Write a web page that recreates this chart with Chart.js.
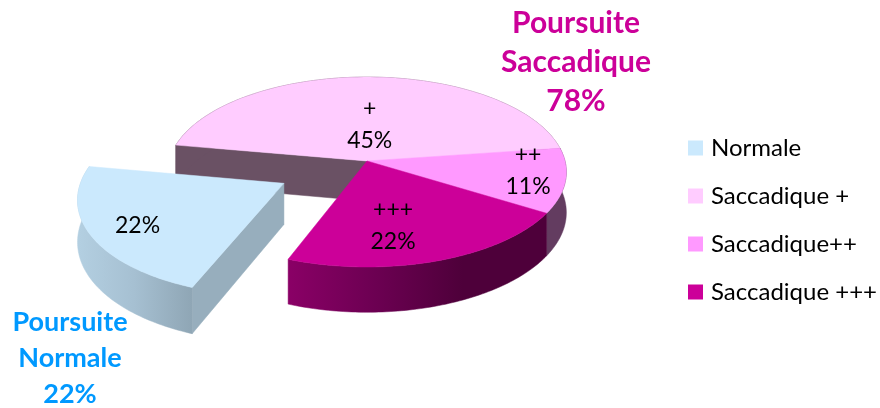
<!DOCTYPE html>
<html>
<head>
<meta charset="utf-8">
<style>
    html, body { margin: 0; padding: 0; background: #fff; }
    canvas { display: block; }
</style>
<script src="https://cdn.jsdelivr.net/npm/chart.js@4/dist/chart.umd.min.js"></script>
</head>
<body>
<canvas id="pieChart" width="880" height="408"></canvas>
<script>
const categories = ['Normale', 'Saccadique +', 'Saccadique++', 'Saccadique +++'];
const percents = [22, 45, 11, 22];
const sliceMarks = ['', '+', '++', '+++'];
const groupNormal = ['Poursuite', 'Normale', '22%'];
const groupSaccadic = ['Poursuite', 'Saccadique', '78%'];

const topColors = ['#CBE9FD', '#FFCCFF', '#FF99FF', '#CC0099'];
const FONT = 'Lato, "Open Sans", sans-serif';

// how the flat pie is seen: ellipse with a little perspective
const view = { cx: 367, cy: 161, rx: 198, ry: 93.7, persp: 0.116, depth: 40 };

function project(u, v, drop) {
    const s = 1 / (1 - view.persp * v);
    return {
        x: view.cx + view.rx * u * s,
        y: view.cy + view.ry * v * s + (drop ? view.depth * s : 0)
    };
}

function slicePoints(arc) {
    const shift = arc.options.offset / arc.outerRadius;
    const mid = (arc.startAngle + arc.endAngle) / 2;
    const ou = shift * Math.cos(mid);
    const ov = shift * Math.sin(mid);
    const pts = [];
    for (let i = 0; i <= 80; i++) {
        const a = arc.startAngle + (arc.endAngle - arc.startAngle) * i / 80;
        pts.push([ou + Math.cos(a), ov + Math.sin(a)]);
    }
    return { apex: [ou, ov], rim: pts };
}

function fillPath(ctx, list, fill) {
    ctx.beginPath();
    list.forEach((p, i) => i ? ctx.lineTo(p.x, p.y) : ctx.moveTo(p.x, p.y));
    ctx.closePath();
    ctx.fillStyle = fill;
    ctx.fill();
    ctx.strokeStyle = fill;
    ctx.lineWidth = 0.5;
    ctx.stroke();
}

function hGradient(ctx, x0, x1, stops) {
    const g = ctx.createLinearGradient(x0, 0, x1, 0);
    stops.forEach((c, i) => g.addColorStop(i / (stops.length - 1), c));
    return g;
}

function drawSide(ctx, arc, index) {
    const p = slicePoints(arc);
    const wall = ['#97AEBD', '#6A5164'][index];
    if (wall && Math.cos(arc.startAngle) < 0) {
        const a = p.apex, b = p.rim[0];
        fillPath(ctx, [project(a[0], a[1]), project(b[0], b[1]), project(b[0], b[1], true), project(a[0], a[1], true)], wall);
    }
    const top = p.rim.map(q => project(q[0], q[1]));
    const low = p.rim.map(q => project(q[0], q[1], true)).reverse();
    let fill = '#6A5164';
    if (index === 0) fill = hGradient(ctx, 75, 192, ['#B4D0E2', '#A6C0D2', '#8FA6B5']);
    if (index === 2) fill = '#633C60';
    if (index === 3) fill = hGradient(ctx, 288, 550, ['#8A0066', '#6C0052', '#4E003A', '#4E003A']);
    fillPath(ctx, top.concat(low), fill);
}

function drawTop(ctx, arc, index) {
    const p = slicePoints(arc);
    const list = [project(p.apex[0], p.apex[1])].concat(p.rim.map(q => project(q[0], q[1])));
    fillPath(ctx, list, topColors[index]);
}

const pie3d = {
    id: 'pie3d',
    beforeDatasetDraw(chart, args) {
        const ctx = chart.ctx;
        const arcs = args.meta.data;
        ctx.save();
        drawSide(ctx, arcs[1], 1);
        drawSide(ctx, arcs[2], 2);
        drawSide(ctx, arcs[3], 3);
        drawTop(ctx, arcs[1], 1);
        drawTop(ctx, arcs[2], 2);
        drawTop(ctx, arcs[3], 3);
        drawSide(ctx, arcs[0], 0);
        drawTop(ctx, arcs[0], 0);
        ctx.restore();
        return false;
    }
};

// where the value labels sit: share of the radius and small turn in degrees
const labelRadius = [0.78, 0.41, 0.81, 0.65];
const labelTurn = [-2, 1, -5, 8];

const textLabels = {
    id: 'textLabels',
    afterDatasetsDraw(chart) {
        const ctx = chart.ctx;
        const arcs = chart.getDatasetMeta(0).data;
        ctx.save();
        ctx.textAlign = 'center';
        ctx.textBaseline = 'middle';
        ctx.fillStyle = '#000';
        ctx.font = '23px ' + FONT;
        arcs.forEach((arc, i) => {
            const shift = arc.options.offset / arc.outerRadius;
            const mid = (arc.startAngle + arc.endAngle) / 2;
            const a = mid + labelTurn[i] * Math.PI / 180;
            const u = shift * Math.cos(mid) + labelRadius[i] * Math.cos(a);
            const v = shift * Math.sin(mid) + labelRadius[i] * Math.sin(a);
            const p = project(u, v);
            const value = percents[i] + '%';
            if (sliceMarks[i]) {
                ctx.fillText(sliceMarks[i], p.x, p.y - 16);
                ctx.fillText(value, p.x, p.y + 16);
            } else {
                ctx.fillText(value, p.x, p.y);
            }
        });
        ctx.font = 'bold 30px ' + FONT;
        ctx.fillStyle = '#CC0099';
        groupSaccadic.forEach((t, i) => ctx.fillText(t, 576, 23 + i * 39));
        ctx.font = 'bold 27px ' + FONT;
        ctx.fillStyle = '#0099FF';
        groupNormal.forEach((t, i) => ctx.fillText(t, 70, 322 + i * 36));
        ctx.restore();
    }
};

new Chart(document.getElementById('pieChart').getContext('2d'), {
    type: 'pie',
    data: {
        labels: categories,
        datasets: [{
            data: percents,
            backgroundColor: topColors,
            borderWidth: 0,
            offset: [71.5, 0, 0, 0]
        }]
    },
    options: {
        responsive: false,
        animation: false,
        rotation: 200.8,
        layout: { padding: { top: 32, right: -7 } },
        plugins: {
            tooltip: { enabled: false },
            legend: {
                position: 'right',
                labels: {
                    // small box with a thick border of its own colour, so the text sits close to it
                    boxWidth: 7,
                    boxHeight: 7,
                    padding: 24,
                    color: '#000',
                    font: { family: FONT, size: 24 },
                    generateLabels(chart) {
                        return Chart.overrides.pie.plugins.legend.labels.generateLabels(chart).map(item => {
                            item.strokeStyle = item.fillStyle;
                            item.lineWidth = 8;
                            return item;
                        });
                    }
                }
            }
        }
    },
    plugins: [pie3d, textLabels]
});
</script>
</body>
</html>
